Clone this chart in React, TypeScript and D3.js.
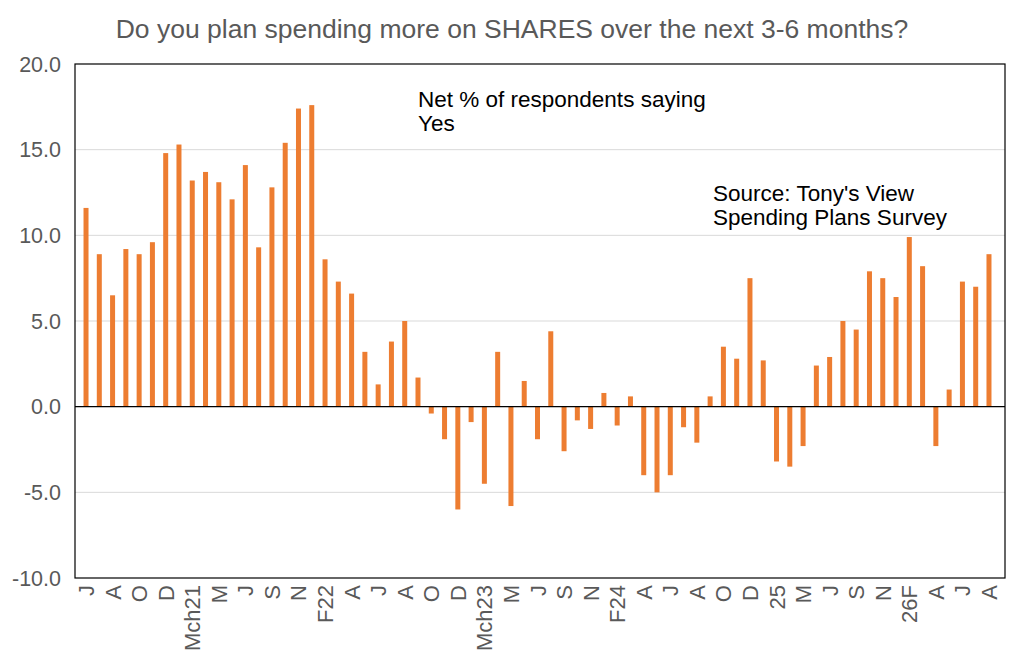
import React from "react";
import * as d3 from "d3";

const labels = ["J","A","O","D","Mch21","M","J","S","N","F22","A","J","A","O","D","Mch23","M","J","S","N","F24","A","J","A","O","D","25","M","J","S","N","26F","A","J","A"];
const values = [11.6,8.9,6.5,9.2,8.9,9.6,14.8,15.3,13.2,13.7,13.1,12.1,14.1,9.3,12.8,15.4,17.4,17.6,8.6,7.3,6.6,3.2,1.3,3.8,5.0,1.7,-0.4,-1.9,-6.0,-0.9,-4.5,3.2,-5.8,1.5,-1.9,4.4,-2.6,-0.8,-1.3,0.8,-1.1,0.6,-4.0,-5.0,-4.0,-1.2,-2.1,0.6,3.5,2.8,7.5,2.7,-3.2,-3.5,-2.3,2.4,2.9,5.0,4.5,7.9,7.5,6.4,9.9,8.2,-2.3,1.0,7.3,7.0,8.9];
const yTicks = [-10,-5,0,5,10,15,20];

export default function App() {
  const W = 1024, H = 669;
  const m = { l: 75, r: 1005, t: 64, b: 578 };
  const idx = values.map((_, i) => i);
  const x = d3.scaleBand<number>().domain(idx).range([m.l, 1000]).paddingInner(0).paddingOuter(0.33);
  const y = d3.scaleLinear().domain([-10, 20]).range([m.b, m.t]);
  const bw = 5;
  const font = "Liberation Sans, Arial, sans-serif";
  return (
    <svg width={W} height={H} style={{ position: "absolute", left: 0, top: 0 }} fontFamily={font}>
      <rect width={W} height={H} fill="#fff" />
      <text x={512} y={38} textAnchor="middle" fontSize={26.5} fill="#595959">Do you plan spending more on SHARES over the next 3-6 months?</text>
      {yTicks.map(t => (
        <g key={t}>
          {t !== 0 && t !== 20 && t !== -10 && <line x1={m.l} x2={m.r} y1={y(t)} y2={y(t)} stroke="#d9d9d9" />}
          <text x={61} y={y(t) + 7.5} textAnchor="end" fontSize={21.5} fill="#595959">{t.toFixed(1)}</text>
        </g>
      ))}
      {values.map((v, i) => (
        <rect key={i} x={x(i)! + x.bandwidth() / 2 - bw / 2} width={bw} y={y(Math.max(0, v))} height={Math.abs(y(v) - y(0))} fill="#ed7d31" />
      ))}
      <line x1={m.l} x2={m.r} y1={y(0)} y2={y(0)} stroke="#000" strokeWidth={1.2} />
      <rect x={m.l} y={m.t} width={m.r - m.l} height={m.b - m.t} fill="none" stroke="#000" strokeWidth={1.2} />
      {labels.map((l, k) => {
        const cx = x(k * 2)! + x.bandwidth() / 2;
        return <text key={k} transform={`translate(${cx + 8},${m.b + 7}) rotate(-90)`} textAnchor="end" fontSize={22} fill="#595959">{l}</text>;
      })}
      <text x={418} y={107} fontSize={22.5} fill="#000">Net % of respondents saying</text>
      <text x={418} y={131} fontSize={22.5} fill="#000">Yes</text>
      <text x={713} y={201} fontSize={22.5} fill="#000">Source: Tony's View</text>
      <text x={713} y={225} fontSize={22.5} fill="#000">Spending Plans Survey</text>
    </svg>
  );
}
